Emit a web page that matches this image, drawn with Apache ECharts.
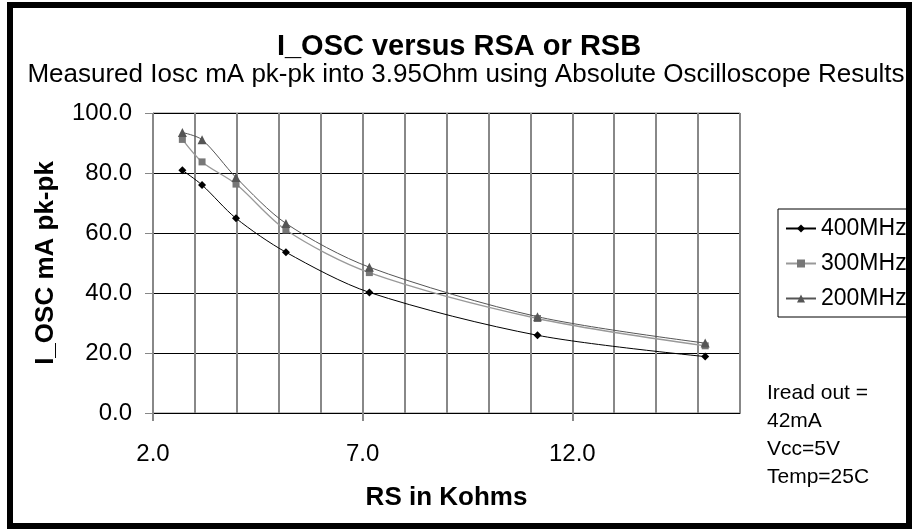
<!DOCTYPE html>
<html>
<head>
<meta charset="utf-8">
<script src="https://cdn.jsdelivr.net/npm/echarts@6/dist/echarts.min.js"></script>
<style>html,body{margin:0;padding:0;background:#fff}#c{width:914px;height:530px}</style>
</head>
<body>
<div id="c"></div>
<script>
var rsValues = [2.7, 3.17, 3.98, 5.17, 7.16, 11.17, 15.17];
var i400 = [80.9, 76.0, 64.9, 53.6, 40.2, 25.9, 18.8];
var i300 = [91.2, 83.7, 76.3, 61.0, 46.8, 31.5, 22.4];
var i200 = [93.5, 91.1, 78.5, 63.2, 48.6, 32.1, 23.3];
var seriesNames = ['400MHz', '300MHz', '200MHz'];
var xLabelValues = [2, 7, 12];
var noteLines = ['Iread out =', '42mA', 'Vcc=5V', 'Temp=25C'];

function pairs(ys) { return rsValues.map(function (x, i) { return [x, ys[i]]; }); }

var FONT = 'Liberation Sans, Arial, sans-serif';
var chart = echarts.init(document.getElementById('c'));
chart.setOption({
  animation: false,
  backgroundColor: '#fff',
  title: [
    { text: 'I_OSC versus RSA or RSB', left: 454, textAlign: 'center', top: 27,
      textStyle: { fontFamily: FONT, fontSize: 29, fontWeight: 'bold', color: '#000' } },
    { text: 'Measured Iosc mA pk-pk into 3.95Ohm using Absolute Oscilloscope Results', left: 461, textAlign: 'center', top: 57,
      textStyle: { fontFamily: FONT, fontSize: 26, fontWeight: 'normal', color: '#000' } }
  ],
  grid: { left: 153, top: 113, right: 174, bottom: 117, show: true, borderColor: '#888', borderWidth: 1, backgroundColor: 'transparent' },
  xAxis: [{
    type: 'value', min: 2, max: 16, interval: 1, position: 'bottom',
    axisLine: { lineStyle: { color: '#000', width: 1 } },
    axisTick: { show: false },
    axisLabel: { show: false },
    splitLine: { show: true, lineStyle: { color: '#888', width: 2 } }
  }, {
    type: 'value', min: 2, max: 16, position: 'bottom', offset: 0,
    name: 'RS in Kohms', nameLocation: 'middle', nameGap: 72,
    nameTextStyle: { fontFamily: FONT, fontSize: 26, fontWeight: 'bold', color: '#000' },
    axisLine: { show: false },
    axisTick: { show: true, customValues: xLabelValues, length: 8, lineStyle: { color: '#888', width: 2 } },
    axisLabel: { customValues: xLabelValues, margin: 29, fontFamily: FONT, fontSize: 24, color: '#000',
      formatter: function (v) { return v.toFixed(1); } },
    splitLine: { show: false }
  }],
  yAxis: {
    type: 'value', min: 0, max: 100, interval: 20,
    name: 'I_OSC mA pk-pk', nameLocation: 'middle', nameGap: 94, nameRotate: 90,
    nameTextStyle: { fontFamily: FONT, fontSize: 26, fontWeight: 'bold', color: '#000' },
    axisLine: { show: true, lineStyle: { color: '#888', width: 1 } },
    axisTick: { show: true, length: 8, lineStyle: { color: '#888', width: 1 } },
    axisLabel: { margin: 21, fontFamily: FONT, fontSize: 24, color: '#000',
      formatter: function (v) { return v.toFixed(1); } },
    splitLine: { show: true, lineStyle: { color: '#000', width: 1 } }
  },
  legend: {
    orient: 'vertical', left: 778, top: 209,
    data: seriesNames,
    borderColor: '#000', borderWidth: 1, padding: [8, 0, 7, 7], itemGap: 12,
    itemWidth: 30, itemHeight: 10,
    textStyle: { fontFamily: FONT, fontSize: 23, color: '#000' }
  },
  series: [
    { name: seriesNames[0], type: 'line', data: pairs(i400), smooth: 0.3,
      symbol: 'diamond', symbolSize: 8,
      lineStyle: { color: '#000', width: 1 }, itemStyle: { color: '#000' } },
    { name: seriesNames[1], type: 'line', data: pairs(i300), smooth: 0.3,
      symbol: 'rect', symbolSize: 7,
      lineStyle: { color: '#999', width: 1.3 }, itemStyle: { color: '#777' } },
    { name: seriesNames[2], type: 'line', data: pairs(i200), smooth: 0.3,
      symbol: 'triangle', symbolSize: 9,
      lineStyle: { color: '#555', width: 1 }, itemStyle: { color: '#555' } }
  ],
  graphic: [
    { type: 'rect', shape: { x: 10, y: 5, width: 899, height: 521 },
      style: { fill: 'none', stroke: '#000', lineWidth: 6 }, z: 100 },
    { type: 'text', left: 767, top: 379,
      style: { text: noteLines.join('\n'), fontFamily: FONT, fontSize: 21, lineHeight: 28, fill: '#000' } }
  ]
});
</script>
</body>
</html>
